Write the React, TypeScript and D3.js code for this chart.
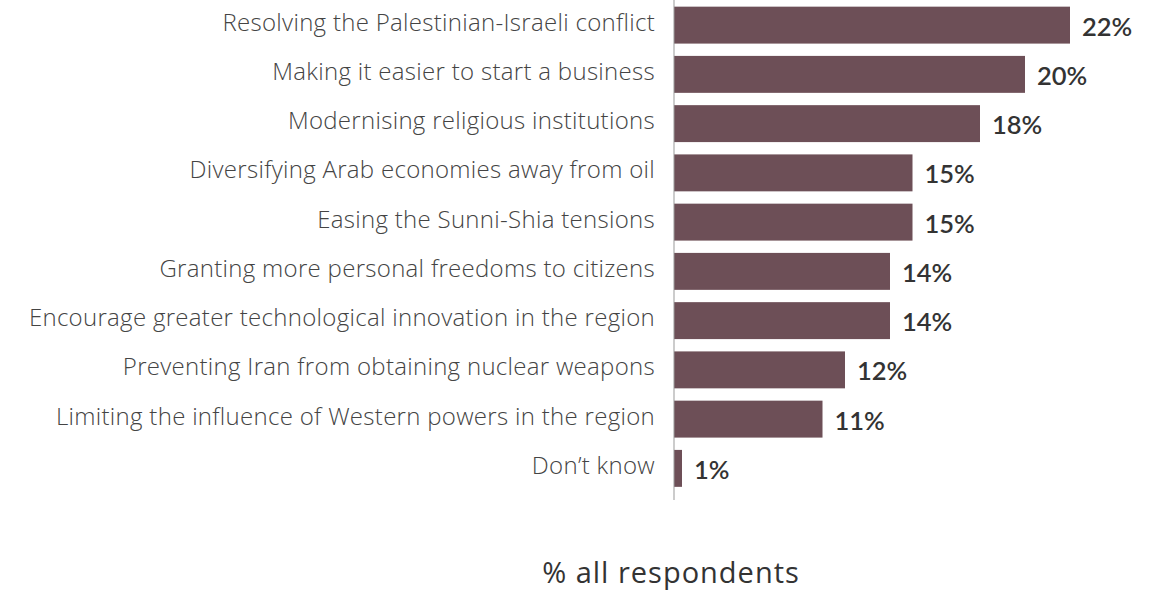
import React from "react";
import * as d3 from "d3";

const categories = [
  "Resolving the Palestinian-Israeli conflict",
  "Making it easier to start a business",
  "Modernising religious institutions",
  "Diversifying Arab economies away from oil",
  "Easing the Sunni-Shia tensions",
  "Granting more personal freedoms to citizens",
  "Encourage greater technological innovation in the region",
  "Preventing Iran from obtaining nuclear weapons",
  "Limiting the influence of Western powers in the region",
  "Don\u2019t know",
];
const values = [22, 20, 18, 15, 15, 14, 14, 12, 11, 1];
const axisTitle = "% all respondents";

const W = 1164;
const H = 591;
const axisX = 674;
const barColor = "#6d4f57";
const labelFont = "'Open Sans', Lato, sans-serif";
const valueFont = "Lato, 'Open Sans', sans-serif";

export default function App() {
  const y = d3
    .scaleBand<string>()
    .domain(categories)
    .range([0.5, 493])
    .paddingInner(0.25)
    .paddingOuter(0.125);
  const x = d3.scaleLinear().domain([4.4, 22]).range([axisX, 1070]);
  const barW = (v: number) => Math.max(8, x(v) - axisX);

  return (
    <svg
      width={W}
      height={H}
      style={{ position: "absolute", left: 0, top: 0, background: "#fff" }}
    >
      {categories.map((c, i) => {
        const yy = y(c)!;
        const bw = y.bandwidth();
        const cy = yy + bw / 2;
        const w = barW(values[i]);
        return (
          <g key={c}>
            <rect x={axisX} y={yy} width={w} height={bw} fill={barColor} />
            <text
              x={655}
              y={cy + 5.5}
              textAnchor="end"
              fontFamily={labelFont}
              fontWeight={300}
              fontSize={24}
              letterSpacing={0.3}
              fill="#444"
            >
              {c}
            </text>
            <text
              x={axisX + w + 12}
              y={cy + 10.5}
              fontFamily={valueFont}
              fontWeight={600}
              fontSize={25.5}
              fill="#333"
            >
              {values[i]}%
            </text>
          </g>
        );
      })}
      <line x1={axisX} x2={axisX} y1={0} y2={500} stroke="#999" strokeWidth={1} />
      <text
        x={671}
        y={583}
        textAnchor="middle"
        fontFamily={labelFont}
        fontWeight={500}
        fontSize={29}
        letterSpacing={1}
        fill="#333"
      >
        {axisTitle}
      </text>
    </svg>
  );
}
